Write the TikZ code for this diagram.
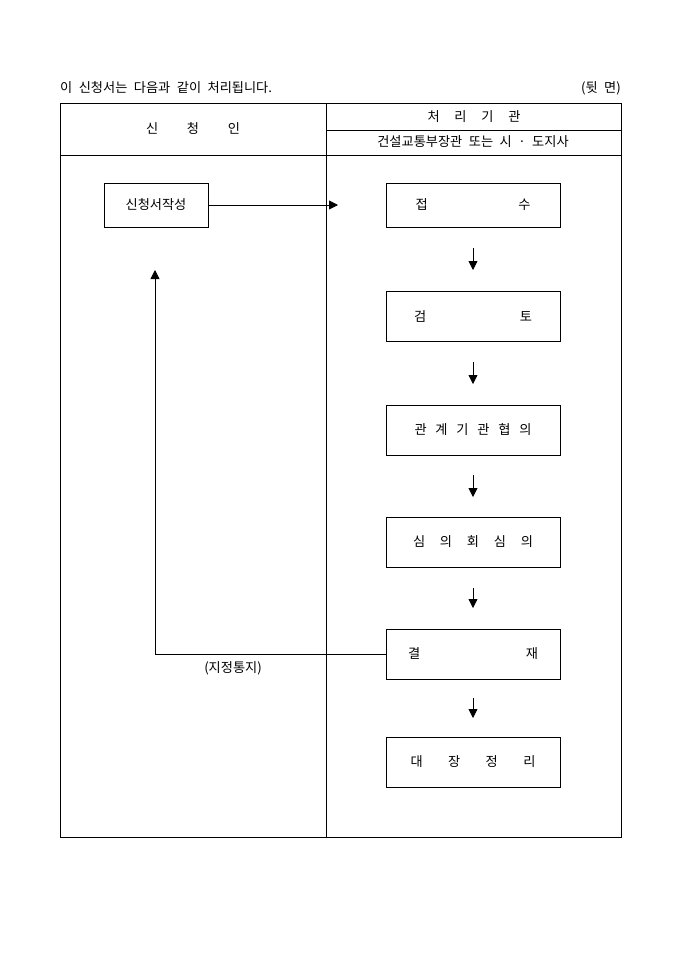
\documentclass[tikz,border=0pt]{standalone}
\usepackage{fontspec}
\setmainfont{Noto Sans CJK KR}[WordSpace=2.2]
\usetikzlibrary{arrows.meta,calc,positioning}

\tikzset{
  stepbox/.style={draw, line width=0.8pt, minimum width=174pt, minimum height=50pt, inner sep=0pt, outer sep=0pt},
  spread/.style={text width=#1},
  flow/.style={line width=0.8pt, -{Triangle[length=9pt,width=9pt]}}
}

\begin{document}
\begin{tikzpicture}[x=1pt, y=-1pt, font=\fontsize{13.2pt}{15pt}\selectfont]
    \useasboundingbox (0,0) rectangle (680,962);

    % table frame
    \draw[line width=0.8pt] (60,103) rectangle (621,837);
    \draw[line width=0.8pt] (326,103) -- (326,837);
    \draw[line width=0.8pt] (326,130) -- (621,130);
    \draw[line width=0.8pt] (60,155) -- (621,155);

    \node[anchor=west, inner sep=0pt] (title) at (60,88) {이 신청서는 다음과 같이 처리됩니다.};
    \node[anchor=east, inner sep=0pt] (side)  at (621,88) {(뒷 면)};

    \node[spread=94pt]  (applicant) at (193,129) {신\hfill 청\hfill 인};
    \node[spread=93pt]  (agency)    at (474,117) {처\hfill 리\hfill 기\hfill 관};
    \node[]             (minister)  at (473,142) {건설교통부장관 또는 시 · 도지사};

    % applicant side
    \node[stepbox, minimum width=104pt, minimum height=44pt] (apply) at (156,205) {신청서작성};

    % agency side
    \node[stepbox, minimum height=44pt, spread=115pt] (jeopsu) at (473,205) {접\hfill 수};
    \node[stepbox, spread=118pt, below=64pt of jeopsu]  (geomto)   {검\hfill 토};
    \node[stepbox, spread=117pt, below=64pt of geomto]  (hyeobui)  {관\hfill 계\hfill 기\hfill 관\hfill 협\hfill 의};
    \node[stepbox, spread=120pt, below=62pt of hyeobui] (simui)    {심\hfill 의\hfill 회\hfill 심\hfill 의};
    \node[stepbox, spread=130pt, below=62pt of simui]   (gyeoljae) {결\hfill 재};
    \node[stepbox, spread=125pt, below=58pt of gyeoljae] (daejang) {대\hfill 장\hfill 정\hfill 리};

    \coordinate (intake) at ($(jeopsu.west)-(48,0)$);
    \coordinate (notice) at (155,270);

    \draw[flow] (apply.east) -- (intake);

    \foreach \a/\b/\s in {jeopsu/geomto/21, geomto/hyeobui/21, hyeobui/simui/20, simui/gyeoljae/21, gyeoljae/daejang/19}
        \draw[flow, shorten <=\s pt, shorten >=\s pt] (\a.south) -- (\b.north);

    \draw[flow] (gyeoljae.west) -| (notice);
    \node[] (designate) at (233,668) {(지정통지)};

  \end{tikzpicture}
\end{document}
